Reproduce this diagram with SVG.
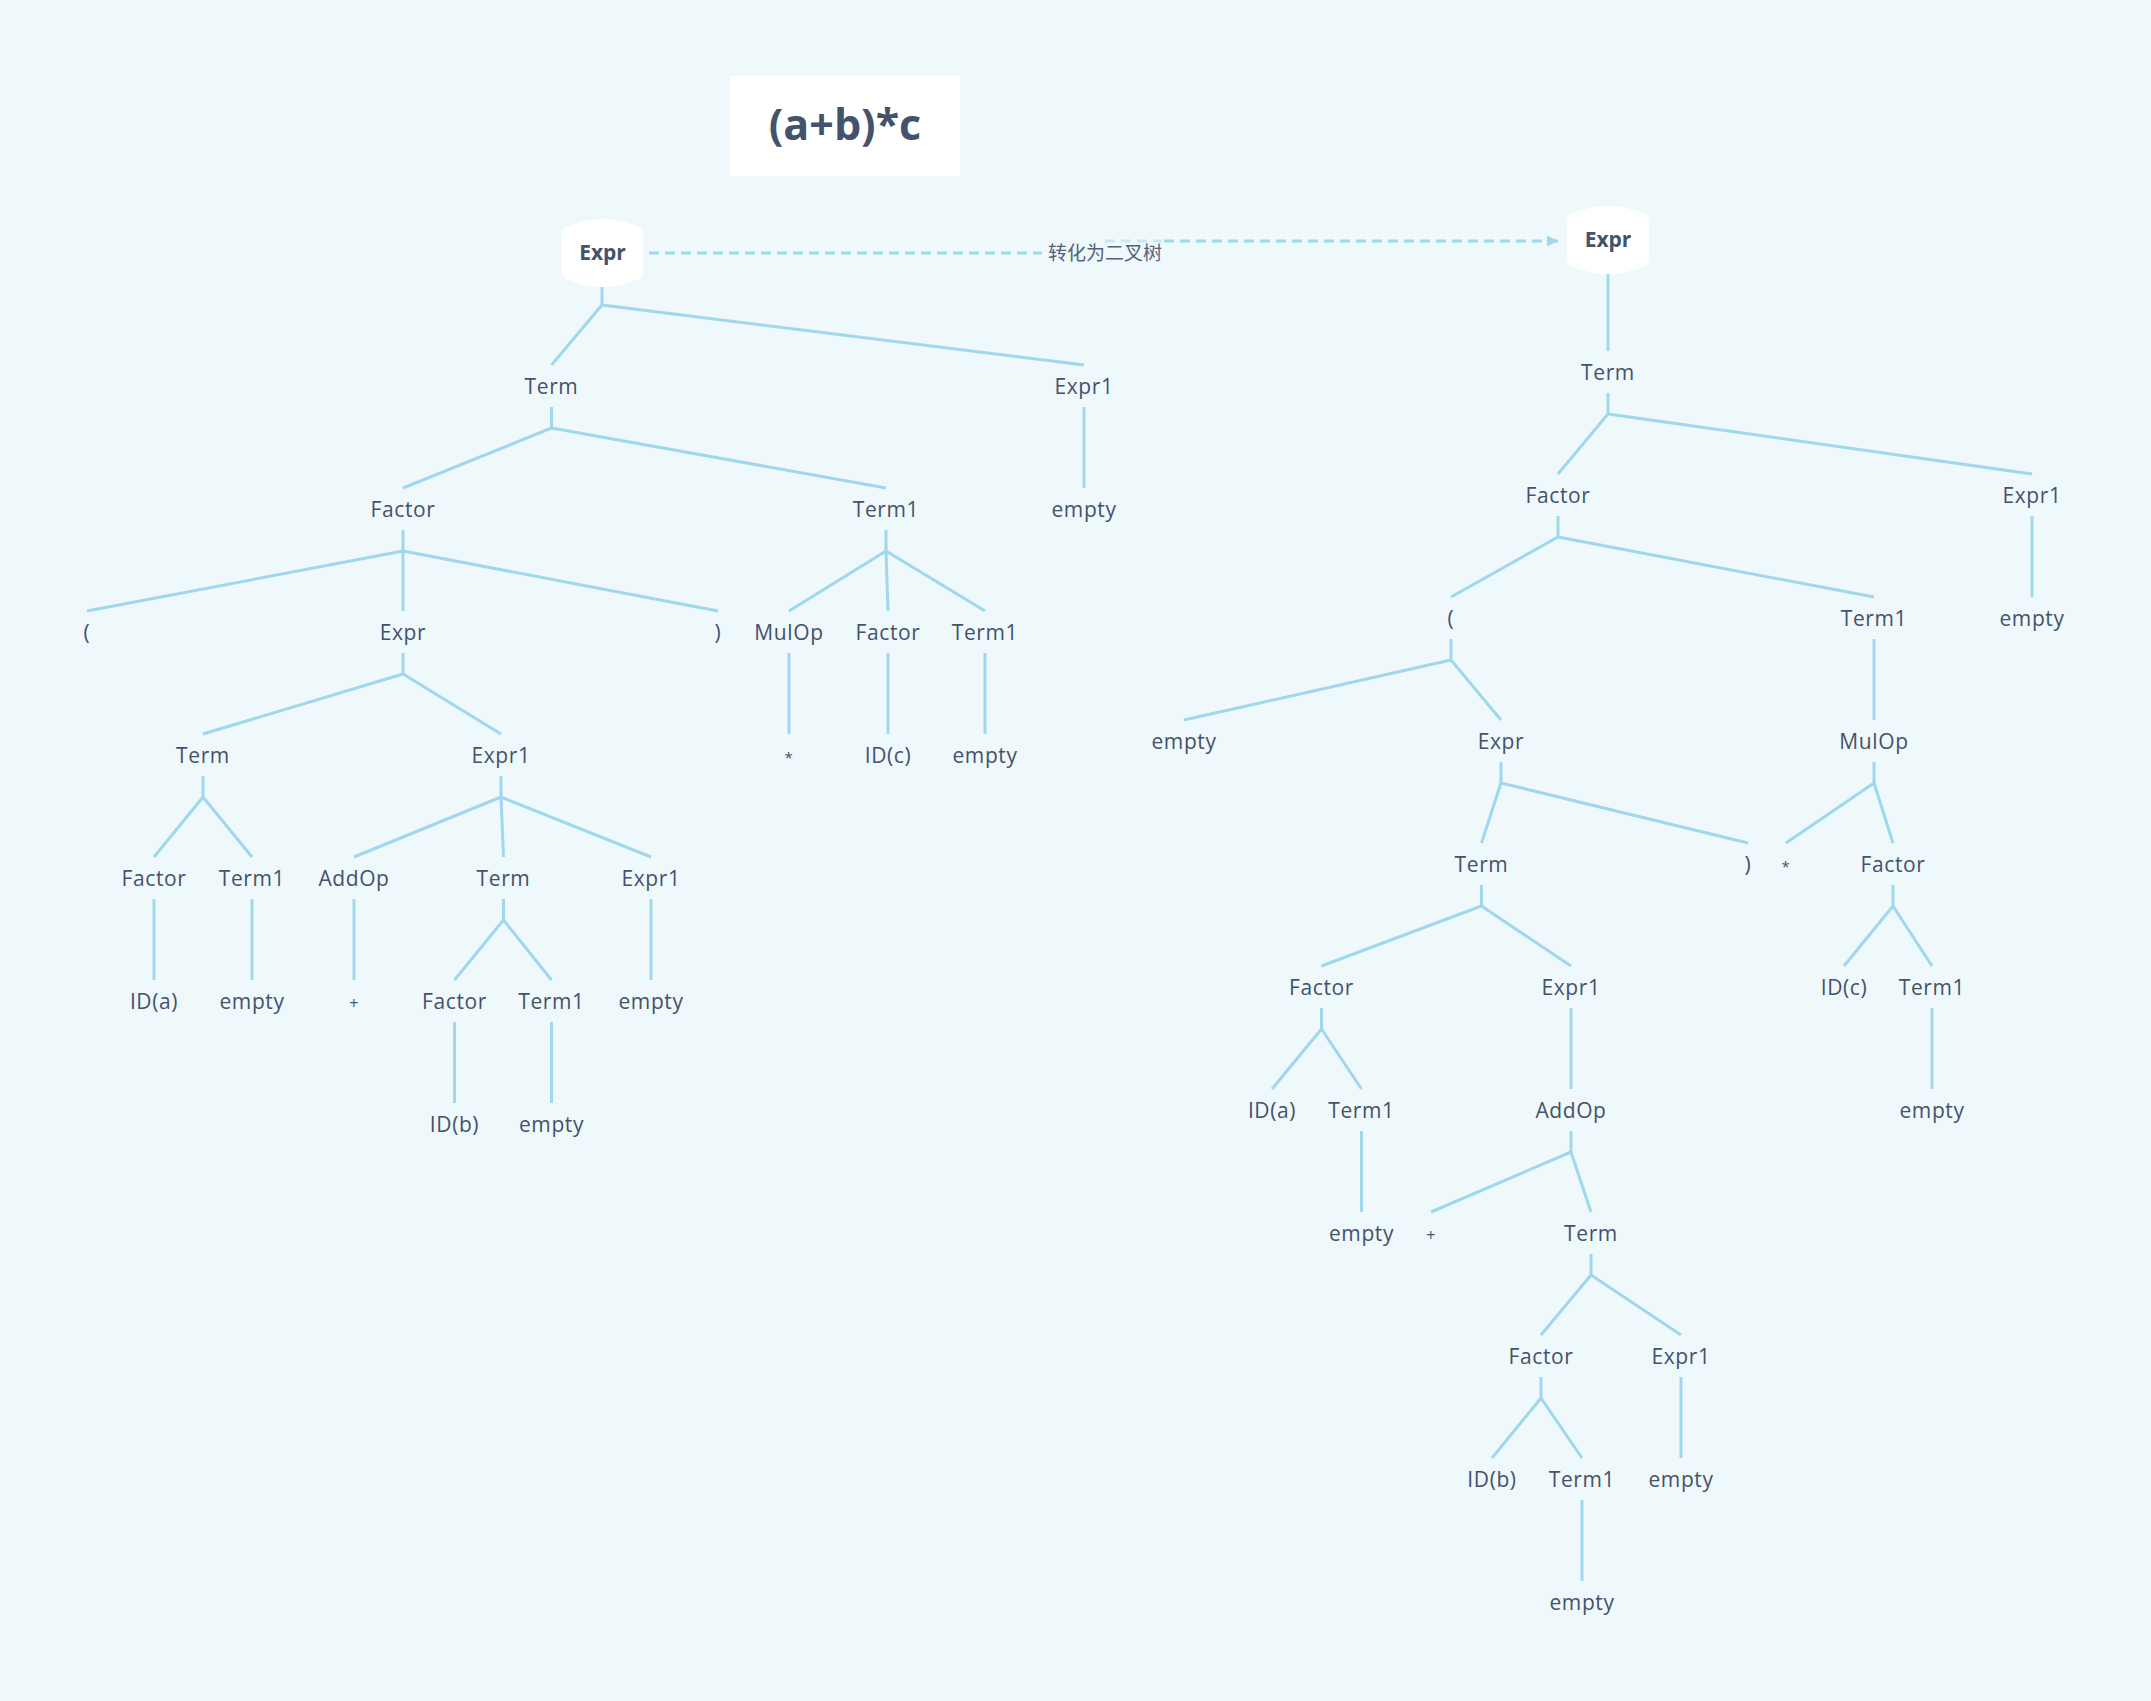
<svg xmlns="http://www.w3.org/2000/svg" width="2151" height="1701" viewBox="0 0 2151 1701">
<defs>
<style>
.bg{fill:#eff8fb}
.lbl{font-family:"Open Sans","Noto Sans","DejaVu Sans",sans-serif;font-size:21px;letter-spacing:0.6px;fill:#44526b;text-anchor:middle}
.root{font-family:"Open Sans","Noto Sans","DejaVu Sans",sans-serif;font-size:21px;font-weight:700;fill:#44526b;text-anchor:middle}
.title{font-family:"Open Sans","Noto Sans","DejaVu Sans",sans-serif;font-size:43px;font-weight:700;fill:#43536b;text-anchor:middle}
.cn{font-family:"Noto Sans CJK SC","Noto Sans",sans-serif;font-size:19px;fill:#56627a;text-anchor:middle}
.edge{fill:none;stroke:#9fd8ec;stroke-width:3;stroke-linecap:butt;stroke-linejoin:round}
.dash{fill:none;stroke:#9fd8ec;stroke-width:3;stroke-dasharray:10 6}
.box{fill:#ffffff}
</style>
<path id="barrel" d="M-41,-17 Q-41,-27 -31,-28 Q0,-40 31,-28 Q41,-27 41,-17 L41,17 Q41,27 31,28 Q0,40 -31,28 Q-41,27 -41,17 Z"/>
<marker id="arrow" markerWidth="12" markerHeight="12" refX="11" refY="6" orient="auto" markerUnits="userSpaceOnUse">
<path d="M0,0.5 L11,6 L0,11.5 Z" fill="#9fd8ec"/>
</marker>
</defs>
<rect class="bg" x="0" y="0" width="2151" height="1701"/>

<g id="title">
<rect x="730" y="76" width="230" height="100" fill="#ffffff"/>
<text class="title" x="845" y="140">(a+b)*c</text>
</g>

<g id="connectors">
<path class="dash" d="M649,253 H1042"/>
<path class="dash" d="M1105,241 H1162" opacity="0.5"/>
<path class="dash" d="M1164,241 H1558" marker-end="url(#arrow)"/>
<text class="cn" x="1105" y="260">转化为二叉树</text>
<path class="edge" d="M602,287 V305 M602,305 L551.5,365 M602,305 L1084,365"/>
<path class="edge" d="M551.5,407 V428 L403,488 M551.5,428 L886,488"/>
<path class="edge" d="M1084,407 V488"/>
<path class="edge" d="M403,530 V611 M403,551 L87,611 M403,551 L718,611"/>
<path class="edge" d="M886,530 V551 L789,611 M886,551 L888,611 M886,551 L985,611"/>
<path class="edge" d="M403,653 V674 L203,734 M403,674 L501,734"/>
<path class="edge" d="M789,653 V734 M888,653 V734 M985,653 V734"/>
<path class="edge" d="M203,776 V797 L154,857 M203,797 L252,857"/>
<path class="edge" d="M501,776 V797 L354,857 M501,797 L503.5,857 M501,797 L651,857"/>
<path class="edge" d="M154,899 V980 M252,899 V980 M354,899 V980 M651,899 V980"/>
<path class="edge" d="M503.5,899 V920 L454.5,980 M503.5,920 L551.5,980"/>
<path class="edge" d="M454.5,1022 V1103 M551.5,1022 V1103"/>

<path class="edge" d="M1608,274 V351"/>
<path class="edge" d="M1608,393 V414 L1558,474 M1608,414 L2032,474"/>
<path class="edge" d="M1558,516 V537 L1451,597 M1558,537 L1874,597"/>
<path class="edge" d="M2032,516 V597"/>
<path class="edge" d="M1451,639 V660 L1184,720 M1451,660 L1501,720"/>
<path class="edge" d="M1874,639 V720"/>
<path class="edge" d="M1501,762 V783 L1481.5,843 M1501,783 L1748,843"/>
<path class="edge" d="M1874,762 V783 L1786,843 M1874,783 L1893,843"/>
<path class="edge" d="M1481.5,885 V906 L1321.5,966 M1481.5,906 L1571,966"/>
<path class="edge" d="M1893,885 V906 L1844,966 M1893,906 L1932,966"/>
<path class="edge" d="M1321.5,1008 V1029 L1272,1089 M1321.5,1029 L1361.5,1089"/>
<path class="edge" d="M1571,1008 V1089 M1932,1008 V1089"/>
<path class="edge" d="M1361.5,1131 V1212"/>
<path class="edge" d="M1571,1131 V1152 L1431,1212 M1571,1152 L1591,1212"/>
<path class="edge" d="M1591,1254 V1275 L1541,1335 M1591,1275 L1681,1335"/>
<path class="edge" d="M1541,1377 V1398 L1492,1458 M1541,1398 L1582,1458"/>
<path class="edge" d="M1681,1377 V1458"/>
<path class="edge" d="M1582,1500 V1581"/>
</g>

<g id="L-Expr"><use href="#barrel" class="box" x="602.5" y="253"/><text class="root" x="602.5" y="260">Expr</text></g>
<g id="L-Term"><text class="lbl" x="551.5" y="394">Term</text></g>
<g id="L-Expr1"><text class="lbl" x="1084" y="394">Expr1</text></g>
<g id="L-Factor"><text class="lbl" x="403" y="517">Factor</text></g>
<g id="L-Term1"><text class="lbl" x="886" y="517">Term1</text></g>
<g id="L-empty1"><text class="lbl" x="1084" y="517">empty</text></g>
<g id="L-lparen"><text class="lbl" x="87" y="640">(</text></g>
<g id="L-Expr2"><text class="lbl" x="403" y="640">Expr</text></g>
<g id="L-rparen"><text class="lbl" x="718" y="640">)</text></g>
<g id="L-MulOp"><text class="lbl" x="789" y="640">MulOp</text></g>
<g id="L-Factor2"><text class="lbl" x="888" y="640">Factor</text></g>
<g id="L-Term1b"><text class="lbl" x="985" y="640">Term1</text></g>
<g id="L-Term2"><text class="lbl" x="203" y="763">Term</text></g>
<g id="L-Expr1b"><text class="lbl" x="501" y="763">Expr1</text></g>
<g id="L-star"><text class="lbl" x="789" y="763" style="font-size:15px">*</text></g>
<g id="L-IDc"><text class="lbl" x="888" y="763">ID(c)</text></g>
<g id="L-empty2"><text class="lbl" x="985" y="763">empty</text></g>
<g id="L-Factor3"><text class="lbl" x="154" y="886">Factor</text></g>
<g id="L-Term1c"><text class="lbl" x="252" y="886">Term1</text></g>
<g id="L-AddOp"><text class="lbl" x="354" y="886">AddOp</text></g>
<g id="L-Term3"><text class="lbl" x="503.5" y="886">Term</text></g>
<g id="L-Expr1c"><text class="lbl" x="651" y="886">Expr1</text></g>
<g id="L-IDa"><text class="lbl" x="154" y="1009">ID(a)</text></g>
<g id="L-empty3"><text class="lbl" x="252" y="1009">empty</text></g>
<g id="L-plus"><text class="lbl" x="354" y="1009" style="font-size:16px">+</text></g>
<g id="L-Factor4"><text class="lbl" x="454.5" y="1009">Factor</text></g>
<g id="L-Term1d"><text class="lbl" x="551.5" y="1009">Term1</text></g>
<g id="L-empty4"><text class="lbl" x="651" y="1009">empty</text></g>
<g id="L-IDb"><text class="lbl" x="454.5" y="1132">ID(b)</text></g>
<g id="L-empty5"><text class="lbl" x="551.5" y="1132">empty</text></g>

<g id="R-Expr"><use href="#barrel" class="box" x="1608" y="240"/><text class="root" x="1608" y="247">Expr</text></g>
<g id="R-Term"><text class="lbl" x="1608" y="380">Term</text></g>
<g id="R-Factor"><text class="lbl" x="1558" y="503">Factor</text></g>
<g id="R-Expr1"><text class="lbl" x="2032" y="503">Expr1</text></g>
<g id="R-lparen"><text class="lbl" x="1451" y="626">(</text></g>
<g id="R-Term1"><text class="lbl" x="1874" y="626">Term1</text></g>
<g id="R-empty1"><text class="lbl" x="2032" y="626">empty</text></g>
<g id="R-empty2"><text class="lbl" x="1184" y="749">empty</text></g>
<g id="R-Expr2"><text class="lbl" x="1501" y="749">Expr</text></g>
<g id="R-MulOp"><text class="lbl" x="1874" y="749">MulOp</text></g>
<g id="R-Term2"><text class="lbl" x="1481.5" y="872">Term</text></g>
<g id="R-rparen"><text class="lbl" x="1748" y="872">)</text></g>
<g id="R-star"><text class="lbl" x="1786" y="872" style="font-size:15px">*</text></g>
<g id="R-Factor2"><text class="lbl" x="1893" y="872">Factor</text></g>
<g id="R-Factor3"><text class="lbl" x="1321.5" y="995">Factor</text></g>
<g id="R-Expr1b"><text class="lbl" x="1571" y="995">Expr1</text></g>
<g id="R-IDc"><text class="lbl" x="1844" y="995">ID(c)</text></g>
<g id="R-Term1b"><text class="lbl" x="1932" y="995">Term1</text></g>
<g id="R-IDa"><text class="lbl" x="1272" y="1118">ID(a)</text></g>
<g id="R-Term1c"><text class="lbl" x="1361.5" y="1118">Term1</text></g>
<g id="R-AddOp"><text class="lbl" x="1571" y="1118">AddOp</text></g>
<g id="R-empty3"><text class="lbl" x="1932" y="1118">empty</text></g>
<g id="R-empty4"><text class="lbl" x="1361.5" y="1241">empty</text></g>
<g id="R-plus"><text class="lbl" x="1431" y="1241" style="font-size:16px">+</text></g>
<g id="R-Term3"><text class="lbl" x="1591" y="1241">Term</text></g>
<g id="R-Factor4"><text class="lbl" x="1541" y="1364">Factor</text></g>
<g id="R-Expr1c"><text class="lbl" x="1681" y="1364">Expr1</text></g>
<g id="R-IDb"><text class="lbl" x="1492" y="1487">ID(b)</text></g>
<g id="R-Term1d"><text class="lbl" x="1582" y="1487">Term1</text></g>
<g id="R-empty5"><text class="lbl" x="1681" y="1487">empty</text></g>
<g id="R-empty6"><text class="lbl" x="1582" y="1610">empty</text></g>
</svg>
